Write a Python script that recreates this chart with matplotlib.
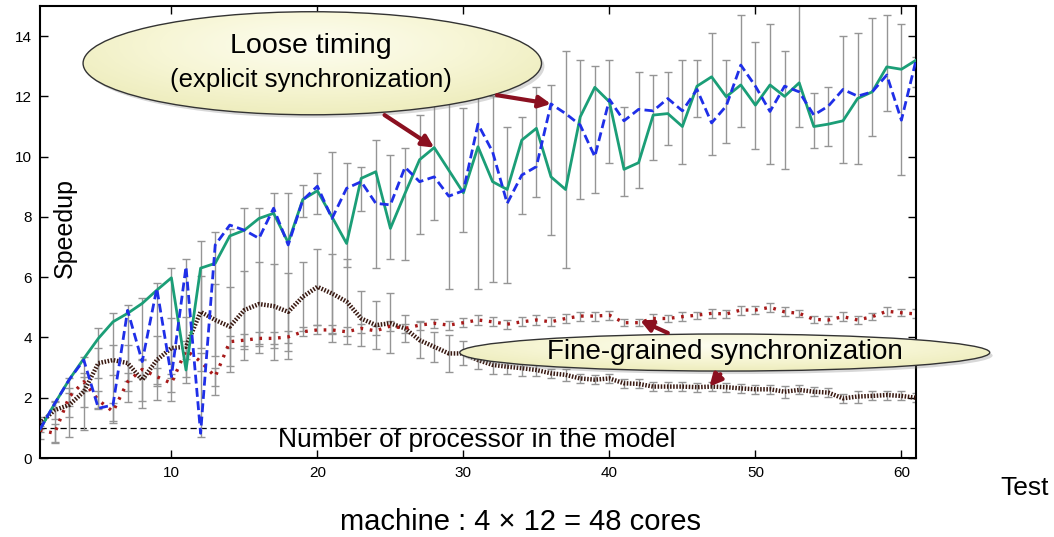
import numpy as np
import matplotlib
matplotlib.use("Agg")
import matplotlib.pyplot as plt
from matplotlib.patches import Ellipse
from matplotlib.colors import LinearSegmentedColormap

plt.rcParams['font.family'] = ['Liberation Sans', 'DejaVu Sans']

# --- datos ---
tests = list(range(1, 62))

loose_a = [0.95, 1.8, 2.6, 3.3, 3.97, 4.52, 4.8, 5.13, 5.57, 5.98,
           2.92, 6.3, 6.46, 7.37, 7.56, 7.95, 8.12, 7.15, 8.58, 8.87,
           8.0, 7.12, 9.28, 9.5, 7.62, 8.78, 9.9, 10.3, 9.55, 8.8,
           10.33, 9.17, 8.91, 10.55, 10.94, 9.33, 8.91, 11.32, 12.3, 11.82,
           9.58, 9.8, 11.38, 11.43, 11.0, 12.34, 12.65, 11.99, 12.38, 11.71,
           12.38, 12.0, 12.45, 11.0, 11.08, 11.19, 11.93, 12.15, 12.98, 12.9,
           13.2]

loose_b = [0.95, 1.8, 2.6, 3.25, 1.65, 1.76, 4.9, 3.2, 5.63, 2.7,
           6.35, 0.82, 7.07, 7.73, 7.56, 7.29, 8.29, 7.07, 8.56, 9.02,
           7.95, 8.95, 9.17, 8.45, 8.4, 9.65, 9.17, 9.33, 8.69, 8.87,
           11.08, 10.16, 8.45, 9.39, 9.67, 11.75, 11.43, 11.05, 10.0, 11.9,
           11.19, 11.57, 11.52, 11.93, 11.52, 12.23, 11.12, 11.68, 13.04, 12.34,
           11.5, 12.34, 12.15, 11.38, 11.68, 12.23, 12.01, 12.15, 12.71, 11.21,
           13.2]

# extremos de las barras de error (loose timing)
loose_lo = [0.85, 0.49, 0.7, 0.93, 1.65, 1.15, 1.87, 1.65, 1.92, 1.9,
            2.5, 0.7, 2.1, 2.85, 3.25, 3.5, 3.25, 3.3, 8.0, 8.1,
            3.85, 6.35, 8.2, 6.3, 6.6, 6.57, 7.45, 7.9, 5.6, 7.5,
            5.6, 5.85, 5.8, 8.1, 8.67, 7.4, 6.3, 8.6, 8.8, 9.8,
            8.7, 8.95, 9.9, 10.4, 9.75, 11.3, 10.05, 10.45, 11.0, 10.25,
            9.75, 9.6, 11.0, 10.3, 10.35, 9.8, 9.75, 10.7, 11.5, 9.4,
            12.3]
loose_hi = [1.05, 1.87, 2.65, 3.35, 4.3, 4.8, 5.08, 5.3, 5.8, 6.3,
            6.6, 7.2, 7.5, 7.6, 8.3, 8.3, 8.8, 8.78, 9.05, 9.45,
            10.16, 9.8, 9.67, 10.55, 10.05, 10.3, 11.38, 11.9, 12.0, 11.6,
            12.0, 12.0, 11.0, 11.3, 12.3, 12.38, 13.5, 13.2, 13.0, 13.2,
            11.65, 12.8, 12.7, 12.8, 13.2, 13.2, 14.1, 13.2, 14.7, 13.8,
            14.4, 13.5, 15.5, 12.1, 12.3, 14.0, 14.1, 14.6, 14.7, 14.4,
            13.3]

fine_a = [0.93, 0.82, 2.03, 2.53, 1.92, 1.54, 2.53, 2.94, 2.7, 2.48,
          3.58, 3.2, 2.7, 3.86, 3.91, 3.97, 3.97, 4.02, 4.19, 4.25,
          4.25, 4.19, 4.3, 4.22, 4.38, 4.3, 4.41, 4.47, 4.41, 4.49,
          4.58, 4.52, 4.44, 4.52, 4.58, 4.52, 4.63, 4.71, 4.71, 4.74,
          4.49, 4.49, 4.63, 4.63, 4.69, 4.74, 4.8, 4.78, 4.91, 4.91,
          5.0, 4.85, 4.8, 4.6, 4.58, 4.69, 4.58, 4.69, 4.87, 4.82,
          4.78]
fine_a_err = [0.3, 0.3, 0.3, 0.3, 0.3, 0.3, 0.3, 0.3, 0.3, 0.3,
              0.3, 0.3, 0.3, 0.2, 0.2, 0.2, 0.2, 0.2, 0.15, 0.15,
              0.15, 0.15, 0.15, 0.15, 0.15, 0.15, 0.15, 0.15, 0.15, 0.15,
              0.15, 0.15, 0.15, 0.15, 0.15, 0.15, 0.15, 0.15, 0.15, 0.15,
              0.12, 0.12, 0.15, 0.12, 0.15, 0.12, 0.15, 0.12, 0.15, 0.12,
              0.15, 0.15, 0.12, 0.12, 0.12, 0.15, 0.12, 0.12, 0.15, 0.12,
              0.15]

fine_b = [1.15, 1.59, 1.76, 2.2, 3.15, 3.25, 3.15, 2.59, 3.25, 3.65,
          3.69, 4.85, 4.58, 4.36, 4.91, 5.11, 5.04, 4.85, 5.35, 5.68,
          5.46, 5.19, 4.63, 4.41, 4.47, 4.3, 3.91, 3.69, 3.47, 3.47,
          3.25, 3.09, 3.03, 2.98, 2.92, 2.81, 2.76, 2.64, 2.6, 2.64,
          2.48, 2.46, 2.37, 2.37, 2.37, 2.35, 2.37, 2.35, 2.31, 2.28,
          2.28, 2.2, 2.26, 2.2, 2.17, 1.98, 2.04, 2.06, 2.09, 2.06,
          2.0]
fine_b_err = [0.2, 0.3, 0.4, 0.5, 0.5, 0.5, 0.6, 0.7, 0.8, 1.0,
              1.0, 1.2, 1.2, 1.3, 1.3, 1.4, 1.4, 1.3, 1.15, 1.25,
              1.3, 1.4, 0.9, 0.8, 1.0, 0.45, 0.6, 0.5, 0.6, 0.4,
              0.3, 0.3, 0.25, 0.25, 0.2, 0.15, 0.2, 0.15, 0.15, 0.15,
              0.15, 0.15, 0.15, 0.15, 0.15, 0.15, 0.15, 0.15, 0.15, 0.15,
              0.15, 0.2, 0.15, 0.15, 0.15, 0.15, 0.2, 0.15, 0.15, 0.15,
              0.15]

n_proc = 1

GRIS = '#959595'
ROJO = '#8b1020'


def burbuja(ax, cx, cy, w, h):
    # sombra + elipse con degradado
    sombra = Ellipse((cx + 0.2, cy - 0.1), w, h, facecolor='0.5', alpha=0.3,
                     edgecolor='none', zorder=5, clip_on=False)
    ax.add_patch(sombra)
    ell = Ellipse((cx, cy), w, h, facecolor='none', edgecolor='0.2', lw=1,
                  zorder=7, clip_on=False)
    ax.add_patch(ell)
    yy, xx = np.mgrid[-1:1:120j, -1:1:240j]
    r = np.sqrt((xx * 0.9)**2 + ((yy - 0.35) * 0.8)**2)
    cmap = LinearSegmentedColormap.from_list('bb', ['#fdfdf0', '#f7f6d6', '#ecebb8'])
    im = ax.imshow(r, extent=(cx - w/2, cx + w/2, cy - h/2, cy + h/2), origin='lower',
                   cmap=cmap, vmin=0, vmax=1.2, aspect='auto', zorder=6,
                   interpolation='bilinear')
    im.set_clip_box(ax.figure.bbox)
    im.set_clip_path(ell)


fig = plt.figure(figsize=(10.54, 5.37), dpi=100)
ax = fig.add_axes([40/1054, 1 - 458/537, 876/1054, 452/537])

x = np.array(tests)
lo = np.array(loose_lo)
hi = np.array(loose_hi)
ax.errorbar(x, (lo + hi) / 2, yerr=(hi - lo) / 2, fmt='none',
            ecolor=GRIS, elinewidth=1, capsize=3.2, capthick=1, zorder=2)
ax.errorbar(x, fine_a, yerr=fine_a_err, fmt='none', ecolor=GRIS, elinewidth=1,
            capsize=3.2, capthick=1, zorder=2)
ax.errorbar(x, fine_b, yerr=fine_b_err, fmt='none', ecolor=GRIS, elinewidth=1,
            capsize=3.2, capthick=1, zorder=2)

ax.plot(x, fine_b, color='#3a1a12', lw=3.2, linestyle=(0, (0.35, 0.35)), zorder=3)
ax.plot(x, fine_a, color='#a81a1a', lw=2.4, linestyle=(0, (0.8, 2.0)), zorder=3)
ax.plot(x, loose_a, color='#1b9e77', lw=2, zorder=4)
ax.plot(x, loose_b, color='#1f2fe8', lw=2, linestyle=(0, (3.2, 1.6)), zorder=4)

ax.axhline(n_proc, color='black', lw=0.9, linestyle=(0, (5, 3)), zorder=1)
ax.text(30.9, 0.6, 'Number of processor in the model', ha='center', va='center',
        fontsize=19, zorder=8)

# burbujas y flechas
burbuja(ax, 19.65, 13.1, 31.4, 3.42)
ax.text(19.55, 13.67, 'Loose timing', ha='center', va='center', fontsize=20.5, zorder=8)
ax.text(19.55, 12.54, '(explicit synchronization)', ha='center', va='center',
        fontsize=18.5, zorder=8)

burbuja(ax, 47.9, 3.5, 36.3, 1.23)
ax.text(47.9, 3.52, 'Fine-grained synchronization', ha='center', va='center',
        fontsize=20, zorder=8)

flecha = dict(arrowstyle='-|>,head_length=0.7,head_width=0.35', color=ROJO, lw=3,
              shrinkA=0, shrinkB=0)
ax.annotate('', xy=(28, loose_a[27]), xytext=(24.6, 11.38), arrowprops=flecha, zorder=9)
ax.annotate('', xy=(36, loose_b[35]), xytext=(32.3, 12.04), arrowprops=flecha, zorder=9)
ax.annotate('', xy=(42.1, fine_a[41] + 0.08), xytext=(44.0, 4.15), arrowprops=flecha, zorder=9)
ax.annotate('', xy=(46.85, fine_b[46]), xytext=(47.6, 2.78), arrowprops=flecha, zorder=9)

ax.set_xlim(1, 61)
ax.set_ylim(0, 15)
ax.set_xticks(range(10, 61, 10))
ax.set_yticks(range(0, 15, 2))
ax.tick_params(direction='in', top=True, right=True, length=6, width=1,
               labelsize=11, pad=6)
for s in ax.spines.values():
    s.set_linewidth(1.5)

ax.text(0.0285, 0.509, 'Speedup', rotation=90, ha='center', va='center',
        fontsize=18, transform=ax.transAxes, zorder=8)
fig.text(1025/1054, 1 - 488/537, 'Test', ha='center', va='center', fontsize=19)
fig.text(520/1054, 1 - 522/537, 'machine : 4 \u00d7 12 = 48 cores', ha='center',
         va='center', fontsize=21)

plt.savefig('out.png', dpi=100)
